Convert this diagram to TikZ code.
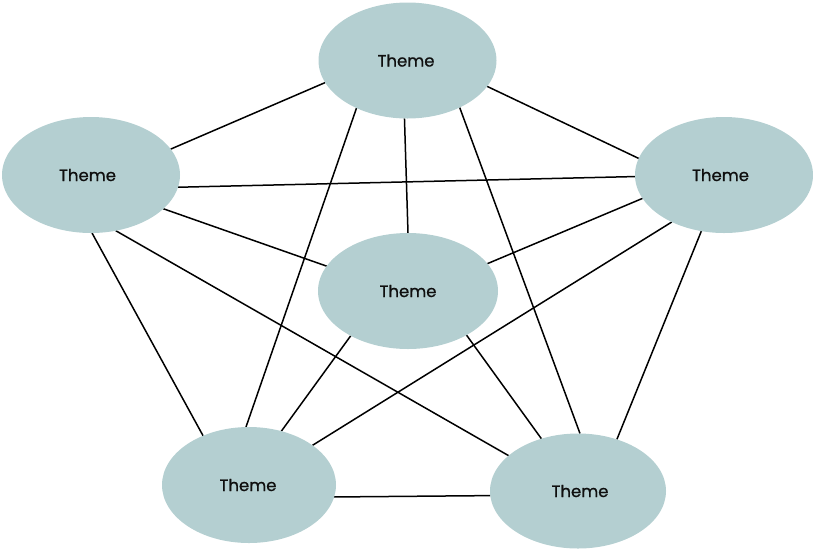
\documentclass[tikz,border=0pt]{standalone}
\usepackage{fontspec}
\setmainfont{Poppins}
\newfontfamily\themefont{Poppins}[FakeBold=0.6]
\usetikzlibrary{shapes.geometric,backgrounds}
\definecolor{themefill}{RGB}{180,207,209}
\definecolor{themetext}{RGB}{15,15,15}
\tikzset{
  theme/.style={ellipse, fill=themefill, draw=none, minimum width=178pt, minimum height=116pt, inner sep=0pt, outer sep=0pt, text=themetext, font=\themefont\fontsize{16.5}{19}\selectfont},
  link/.style={draw=black, line width=1.5pt}
}
\begin{document}
\begin{tikzpicture}[x=1pt,y=-1pt]
\useasboundingbox (0,0) rectangle (813,550);
\node[theme] (T) at (407.5,60.5) {\hspace{-3pt}Theme};
\node[theme] (L) at (91,175) {\hspace{-7pt}Theme};
\node[theme] (R) at (724,175) {\hspace{-7pt}Theme};
\node[theme, minimum width=180pt] (C) at (408,291) {Theme};
\node[theme, minimum width=174pt] (BL) at (249,485) {\hspace{-2pt}Theme};
\node[theme, minimum width=176pt, minimum height=115pt] (BR) at (578,491) {\hspace{4pt}Theme};
\begin{scope}[on background layer]
\draw[link] (T.195.3) -- (L.18.6);
\draw[link] (T.342.2) -- (R.169.5);
\draw[link] (T.267.5) -- (C.90);
\draw[link] (T.223.8) -- (BL.93);
\draw[link] (T.318.9) -- (BR.88);
\draw[link] (L.352.1) -- (R.181.3);
\draw[link] (L.335.7) -- (C.163.7);
\draw[link] (L.271) -- (BL.133.2);
\draw[link] (L.294.9) -- (BR.153.1);
\draw[link] (R.196.5) -- (C.19.3);
\draw[link] (R.222.7) -- (BL.32.4);
\draw[link] (R.248) -- (BR.53.3);
\draw[link] (C.218.2) -- (BL.59.4);
\draw[link] (C.323.4) -- (BR.125.4);
\draw[link] (BL.352.7) -- (BR.183.9);
\end{scope}
\end{tikzpicture}
\end{document}
